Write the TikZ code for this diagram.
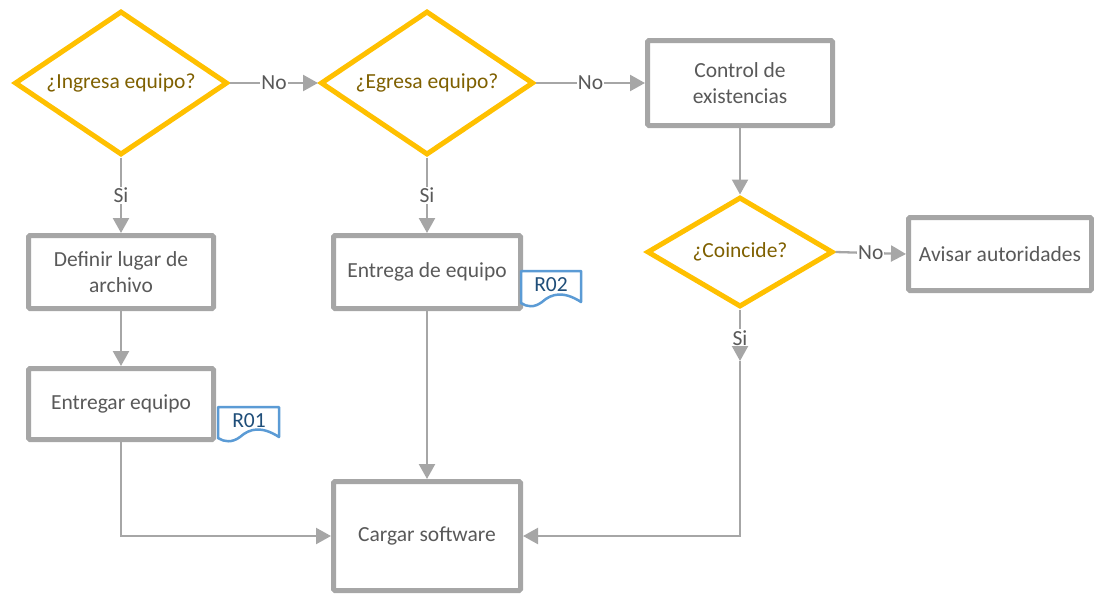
\documentclass[tikz,border=0pt]{standalone}
\usepackage{fontspec}
\setmainfont{Carlito}
\usetikzlibrary{shapes.geometric,arrows.meta}
\definecolor{gold}{HTML}{FFC000}
\definecolor{dtext}{HTML}{7F6000}
\definecolor{bgray}{HTML}{A6A6A6}
\definecolor{tgray}{HTML}{595959}
\definecolor{docblue}{HTML}{5B9BD5}
\definecolor{doctext}{HTML}{1F4E79}
\tikzset{
  every node/.style={font=\fontsize{21.5}{26}\selectfont},
  dec/.style={shape=diamond, draw=gold, line width=5pt, fill=white, inner sep=0pt, minimum width=213pt, minimum height=144pt},
  dectext/.style={text=dtext, inner sep=0pt},
  proc/.style={shape=rectangle, draw=bgray, line width=5pt, fill=white, rounded corners=1.5pt, text=tgray, align=center, inner sep=0pt},
  conn/.style={draw=bgray, line width=2.3pt, -{Triangle[length=15pt,width=16pt]}},
  lbl/.style={fill=white, text=tgray, inner sep=1pt},
  docshape/.style={draw=docblue, line width=2.5pt, fill=white, line join=round},
  doclbl/.style={text=doctext, inner sep=0pt}
}
\begin{document}
\begin{tikzpicture}[x=1pt,y=-1pt]
\useasboundingbox (0,0) rectangle (1094,595);
% decisions
\node[dec] (d1) at (121,83) {};
\node[dectext] (d1t) at (d1.center) {¿Ingresa equipo?};
\node[dec] (d2) at (427,83) {};
\node[dectext] (d2t) at (d2.center) {¿Egresa equipo?};
\node[dec, minimum width=186pt, minimum height=110pt] (d3) at (740,252) {};
\node[dectext] (d3t) at (d3.center) {¿Coincide?};
% processes
\node[proc, minimum width=185pt, minimum height=85pt] (ctrl) at (740,83) {Control de\\existencias};
\node[proc, minimum width=183pt, minimum height=73pt] (avis) at (1000,254) {Avisar autoridades};
\node[proc, minimum width=185pt, minimum height=73pt] (def) at (121,272) {Definir lugar de\\archivo};
\node[proc, minimum width=185pt, minimum height=71pt] (ent) at (121,404) {Entregar equipo};
\node[proc, minimum width=187pt, minimum height=73pt] (edq) at (427,272) {Entrega de equipo};
\node[proc, minimum width=187pt, minimum height=109pt] (cs) at (427,536) {Cargar software};
% documents
\path[docshape] (218,407) -- (279,407) -- (279,437) .. controls (262,426) and (250,428) .. (240,437) .. controls (232,443) and (224,442) .. (218,438) -- cycle;
\node[doclbl] (r01) at (249,421) {R01};
\path[docshape] (521,271) -- (581,271) -- (581,302) .. controls (564,291) and (552,293) .. (542,302) .. controls (534,308) and (527,307) .. (521,303) -- cycle;
\node[doclbl] (r02) at (551,285) {R02};
% connectors
\draw[conn] (d1.south) -- node[lbl]{Si} (def.north);
\draw[conn] (d1.east) -- node[lbl]{No} (d2.west);
\draw[conn] (d2.south) -- node[lbl]{Si} (edq.north);
\draw[conn] (d2.east) -- node[lbl]{No} (ctrl.west);
\draw[conn] (ctrl.south) -- (d3.north);
\draw[conn] (d3.east) -- node[lbl]{No} (avis.west);
\coordinate (m3) at (740,361);
\draw[conn] (d3.south) -- node[lbl, pos=0.55]{Si} (m3);
\draw[conn] (m3) |- (cs.east);
\draw[conn] (def.south) -- (ent.north);
\draw[conn] (ent.south) |- (cs.west);
\draw[conn] (edq.south) -- (cs.north);
\end{tikzpicture}
\end{document}
